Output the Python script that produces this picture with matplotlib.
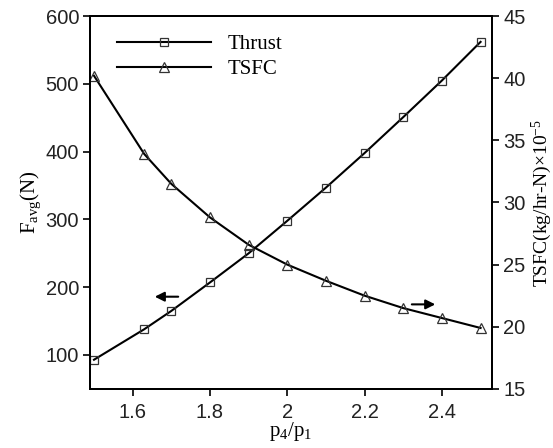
import matplotlib
matplotlib.use("Agg")
import matplotlib.pyplot as plt

# pressure ratio p4/p1
ratio = [1.5, 1.63, 1.7, 1.8, 1.9, 2.0, 2.1, 2.2, 2.3, 2.4, 2.5]
thrust = [93, 138, 165, 207, 250, 298, 347, 398, 451, 505, 562]
tsfc = [40.2, 33.9, 31.5, 28.8, 26.6, 25.0, 23.7, 22.5, 21.5, 20.7, 19.9]

left_ticks = [100, 200, 300, 400, 500, 600]
right_ticks = [15, 20, 25, 30, 35, 40, 45]
x_ticks = [1.6, 1.8, 2.0, 2.2, 2.4]
x_labels = ["1.6", "1.8", "2", "2.2", "2.4"]

serif = "Liberation Serif"
sans = "Liberation Sans"

plt.rcParams["mathtext.fontset"] = "custom"
plt.rcParams["mathtext.rm"] = serif
plt.rcParams["mathtext.it"] = serif + ":italic"
plt.rcParams["mathtext.default"] = "rm"

fig = plt.figure(figsize=(5.53, 4.48), dpi=100)
ax = fig.add_axes([0.163, 0.132, 0.727, 0.832])
ax2 = ax.twinx()

l1, = ax.plot(ratio, thrust, color="black", lw=1.5, marker="s", ms=6,
              mfc="none", mec="#333333", mew=0.9)
l2, = ax2.plot(ratio, tsfc, color="black", lw=1.5, marker="^", ms=7,
               mfc="none", mec="#333333", mew=0.9)

ax.set_xlim(1.49, 2.53)
ax.set_ylim(50, 600)
ax2.set_ylim(15, 45)
ax.set_xticks(x_ticks)
ax.set_xticklabels(x_labels)
ax.set_yticks(left_ticks)
ax2.set_yticks(right_ticks)

for a in (ax, ax2):
    a.tick_params(direction="out", length=5, width=1.2, labelsize=14.5,
                  colors="black", pad=3)
    for lab in a.get_xticklabels() + a.get_yticklabels():
        lab.set_family(sans)
        lab.set_color("#222222")
    for s in a.spines.values():
        s.set_linewidth(1.4)
ax.tick_params(axis="x", pad=5)

ax.set_xlabel("p$_4$/p$_1$", family=serif, fontsize=15, labelpad=-1)
ax.set_ylabel("F$_{avg}$(N)", family=serif, fontsize=15, labelpad=2)
ax2.set_ylabel("TSFC(kg/hr-N)×10$^{-5}$", family=serif, fontsize=14,
               labelpad=3)

# direction arrows
ax.annotate("", xy=(1.65, 186), xytext=(1.725, 186),
            arrowprops=dict(arrowstyle="-|>", color="black", lw=1.5,
                            mutation_scale=14))
ax2.annotate("", xy=(2.39, 21.8), xytext=(2.315, 21.8),
             arrowprops=dict(arrowstyle="-|>", color="black", lw=1.5,
                             mutation_scale=14))

leg = ax.legend([l1, l2], ["Thrust", "TSFC"], loc="upper left",
                frameon=False, handlelength=4.5,
                prop={"family": serif, "size": 15},
                bbox_to_anchor=(0.02, 1.0), labelspacing=0.25)

fig.savefig("out.png", dpi=100)
